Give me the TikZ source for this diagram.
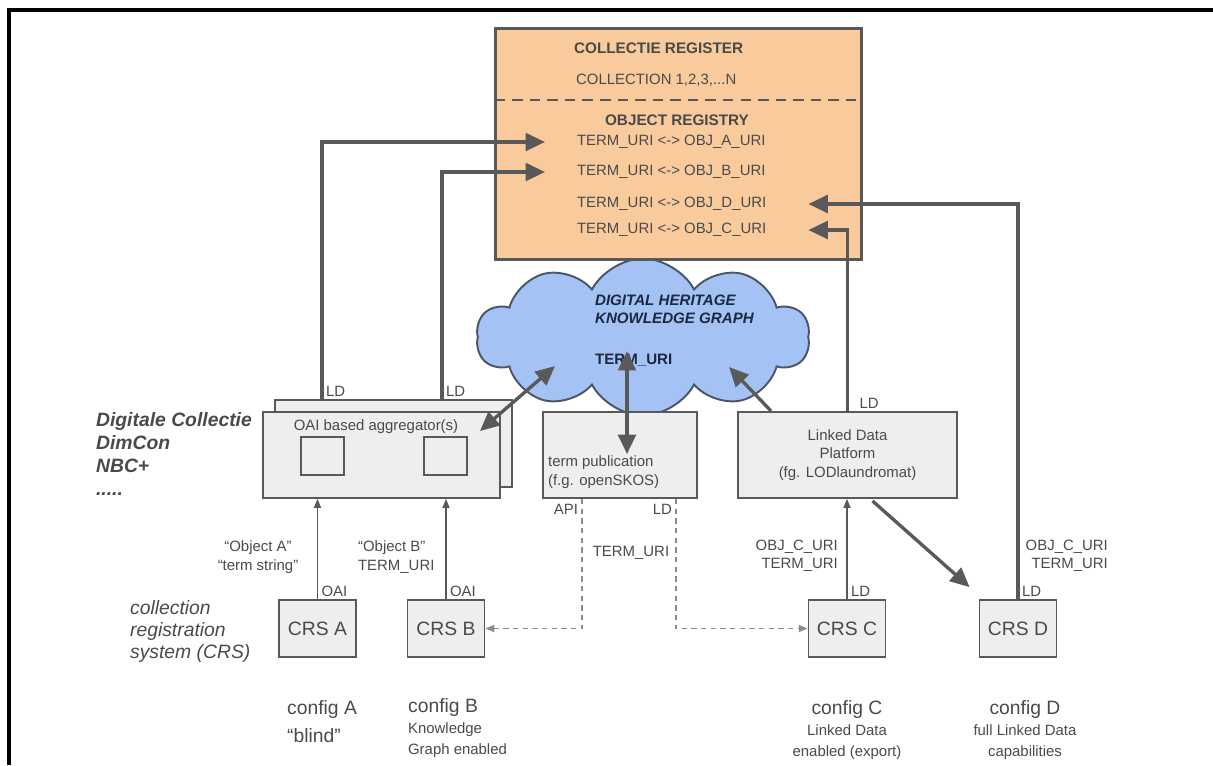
\documentclass[tikz,border=0pt]{standalone}
\usepackage{fontspec}
\setmainfont{Liberation Sans}
\usetikzlibrary{arrows.meta,calc,positioning,shapes.symbols}

\definecolor{regorange}{HTML}{F9CB9C}
\definecolor{cloudblue}{HTML}{A4C2F4}
\definecolor{boxgray}{HTML}{EEEEEE}
\definecolor{linegray}{HTML}{595959}
\definecolor{txtgray}{HTML}{4A4A4A}
\definecolor{dashgray}{HTML}{8C8C8C}
\definecolor{cloudline}{HTML}{4A5568}
\definecolor{navytxt}{HTML}{1C2841}

\tikzset{
  sysbox/.style={draw=linegray, line width=1.1pt, fill=boxgray, inner sep=0pt},
  txt/.style={text=txtgray, inner sep=1pt, font=\fontsize{8.5}{10.5}\selectfont},
  bigtxt/.style={text=txtgray, inner sep=1pt, font=\fontsize{11}{13}\selectfont},
  bigarrow/.style={draw=linegray, line width=1.9pt, -{Triangle[length=11pt,width=10pt]}},
  twoway/.style={draw=linegray, line width=1.9pt, {Triangle[length=11pt,width=10pt]}-{Triangle[length=11pt,width=10pt]}},
  thinarrow/.style={draw=linegray, line width=0.6pt, -{Triangle[length=5pt,width=4pt]}},
  dasharrow/.style={draw=dashgray, line width=0.9pt, dash pattern=on 3pt off 2.5pt, -{Triangle[length=5pt,width=4pt]}}
}

\begin{document}
\begin{tikzpicture}[x=0.02cm, y=-0.02cm]
  \useasboundingbox (0,0) rectangle (1213,765);
  \draw[line width=2pt] (9,765) -- (9,10) -- (1213,10);

  % knowledge graph cloud, behind the register
  \node (khg) [cloud, cloud puffs=10, cloud puff arc=125, aspect=2.1,
    draw=cloudline, line width=1.1pt, fill=cloudblue,
    minimum width=6.66cm, minimum height=3.14cm] at (643,337) {};
  \node (khgname) [anchor=west, inner sep=1pt, text=navytxt, align=left,
    font=\fontsize{8.6}{10.4}\selectfont\bfseries\itshape] at (593,309)
    {DIGITAL HERITAGE\\KNOWLEDGE GRAPH};
  \node (khgterm) [anchor=west, inner sep=1pt, text=navytxt,
    font=\fontsize{8.6}{10.4}\selectfont\bfseries] at (593,360) {TERM\_URI};

  % collectie register
  \node (registry) [draw=linegray, line width=1.7pt, fill=regorange,
    minimum width=7.34cm, minimum height=4.64cm] at (678.5,144) {};
  \draw[linegray, line width=1.1pt, dash pattern=on 6pt off 4pt]
    ($(registry.west)+(1,-44)$) -- ($(registry.east)+(-1,-44)$);
  \node (colreg) [txt, anchor=west, font=\fontsize{8.7}{10.5}\selectfont\bfseries] at (572,48) {COLLECTIE REGISTER};
  \node (colls) [txt, anchor=west] at (574,80) {COLLECTION 1,2,3,...N};
  \node (objreg) [txt, font=\fontsize{8.7}{10.5}\selectfont\bfseries] at (677,120) {OBJECT REGISTRY};
  \node (objA) [txt, anchor=west] at (575,142) {TERM\_URI <-> OBJ\_A\_URI};
  \node (objB) [txt, anchor=west] at (575,172) {TERM\_URI <-> OBJ\_B\_URI};
  \node (objD) [txt, anchor=west] at (575,204) {TERM\_URI <-> OBJ\_D\_URI};
  \node (objC) [txt, anchor=west] at (575,230) {TERM\_URI <-> OBJ\_C\_URI};

  % middle layer
  \node (aggback) [sysbox, minimum width=4.74cm, minimum height=1.74cm] at (393.5,443.5) {};
  \node (aggfront) [sysbox, minimum width=4.74cm, minimum height=1.72cm] at (381.5,455) {};
  \node (aggname) [txt] at (376,427) {OAI based aggregator(s)};
  \node (aggA) [sysbox, line width=0.8pt, minimum width=0.86cm, minimum height=0.76cm] at (322.5,456) {};
  \node (aggB) [sysbox, line width=0.8pt, minimum width=0.86cm, minimum height=0.76cm] at (445.5,456) {};
  \node (termpub) [sysbox, minimum width=3.08cm, minimum height=1.72cm] at (620,455) {};
  \node (termtxt) [txt, anchor=west, align=left] at (546,472) {term publication\\(f.g. openSKOS)};
  \node (ldp) [sysbox, txt, inner sep=0pt, align=center, minimum width=4.38cm, minimum height=1.72cm] at (847.5,455)
    {Linked Data\\Platform\\(fg. LODlaundromat)};

  % registration systems
  \node (crsA) [sysbox, bigtxt, inner sep=0pt, minimum width=1.54cm, minimum height=1.14cm] at (317.5,628.5) {CRS A};
  \node (crsB) [sysbox, bigtxt, inner sep=0pt, minimum width=1.54cm, minimum height=1.14cm] at (446,628.5) {CRS B};
  \node (crsC) [sysbox, bigtxt, inner sep=0pt, minimum width=1.54cm, minimum height=1.14cm] at (847,628.5) {CRS C};
  \node (crsD) [sysbox, bigtxt, inner sep=0pt, minimum width=1.54cm, minimum height=1.14cm] at (1018,628.5) {CRS D};

  % side captions
  \node (dimcon) [bigtxt, anchor=north west, align=left, font=\fontsize{11}{13.2}\selectfont\bfseries\itshape] at (94,410)
    {Digitale Collectie\\DimCon\\NBC+\\.....};
  \node (crsname) [bigtxt, anchor=north west, align=left, font=\fontsize{11}{12.5}\selectfont\itshape] at (128,598)
    {collection\\registration\\system (CRS)};
  \node (cfgA) [bigtxt, anchor=north west, align=left] at (285,698) {config A\\[3pt]``blind''};
  \node (cfgB) [bigtxt, anchor=north west, align=left] at (406,696) {config B\\[-1pt]{\fontsize{8.5}{10.5}\selectfont Knowledge}\\[-1pt]{\fontsize{8.5}{10.5}\selectfont Graph enabled}};
  \node (cfgC) [bigtxt, anchor=north, align=center] at (847,698) {config C\\[-1pt]{\fontsize{8.5}{10.5}\selectfont Linked Data}\\[-1pt]{\fontsize{8.5}{10.5}\selectfont enabled (export)}};
  \node (cfgD) [bigtxt, anchor=north, align=center] at (1025,698) {config D\\[-1pt]{\fontsize{8.5}{10.5}\selectfont full Linked Data}\\[-1pt]{\fontsize{8.5}{10.5}\selectfont capabilities}};

  % LD links into the object registry
  \draw[bigarrow] ($(aggback.north west)+(48,0)$) |- ($(objA.west)+(-30,0)$);
  \draw[bigarrow] ($(aggback.north west)+(168,0)$) |- ($(objB.west)+(-30,0)$);
  \draw[bigarrow] (crsD.north) |- ($(objD.east)+(40,0)$);
  \draw[bigarrow] (ldp.north) |- ($(objC.east)+(40,0)$);
  \node (ldA) [txt, anchor=south west] at ($(aggback.north west)+(50,0)$) {LD};
  \node (ldB) [txt, anchor=south west] at ($(aggback.north west)+(170,0)$) {LD};
  \node (ldP) [txt, anchor=south west] at ($(ldp.north)+(10,0)$) {LD};
  \node (ldD) [txt, anchor=south west] at ($(crsD.north)+(2,0)$) {LD};

  % links with the knowledge graph
  \draw[twoway] ($(aggfront.north east)+(-21,20)$) -- ++(75,-65);
  \draw[twoway] ($(termpub.north)+(7,43)$) -- ++(0,-103);
  \draw[bigarrow] ($(ldp.north west)+(34,0)$) -- ++(-42,-44);
  \draw[bigarrow] ($(ldp.south)+(25,2)$) -- ($(crsD.north west)+(-9,-12)$);

  % harvesting
  \draw[thinarrow] (crsA.north) -- (crsA.north |- aggfront.south);
  \draw[thinarrow] (crsB.north) -- (crsB.north |- aggfront.south);
  \draw[thinarrow] (crsC.north) -- (crsC.north |- ldp.south);
  \node (oaiA) [txt, anchor=south west] at ($(crsA.north)+(2,0)$) {OAI};
  \node (oaiB) [txt, anchor=south west] at ($(crsB.north)+(2,0)$) {OAI};
  \node (ldC) [txt, anchor=south west] at ($(crsC.north)+(2,0)$) {LD};
  \node (payA) [txt, align=center] at (258,557) {``Object A''\\``term string''};
  \node (payB) [txt, anchor=west, align=left] at (356,557) {``Object B''\\TERM\_URI};
  \node (payC) [txt, anchor=east, align=right] at (840,556) {OBJ\_C\_URI\\TERM\_URI};
  \node (payD) [txt, anchor=east, align=right] at (1110,556) {OBJ\_C\_URI\\TERM\_URI};

  % term lookups
  \draw[dasharrow] ($(termpub.south west)+(40,0)$) |- (crsB.east);
  \draw[dasharrow] ($(termpub.south west)+(134,0)$) |- (crsC.west);
  \node (api) [txt, anchor=north east] at ($(termpub.south west)+(38,3)$) {API};
  \node (ldT) [txt, anchor=north east] at ($(termpub.south west)+(132,3)$) {LD};
  \node (termuri) [txt] at (631,553) {TERM\_URI};
\end{tikzpicture}
\end{document}
